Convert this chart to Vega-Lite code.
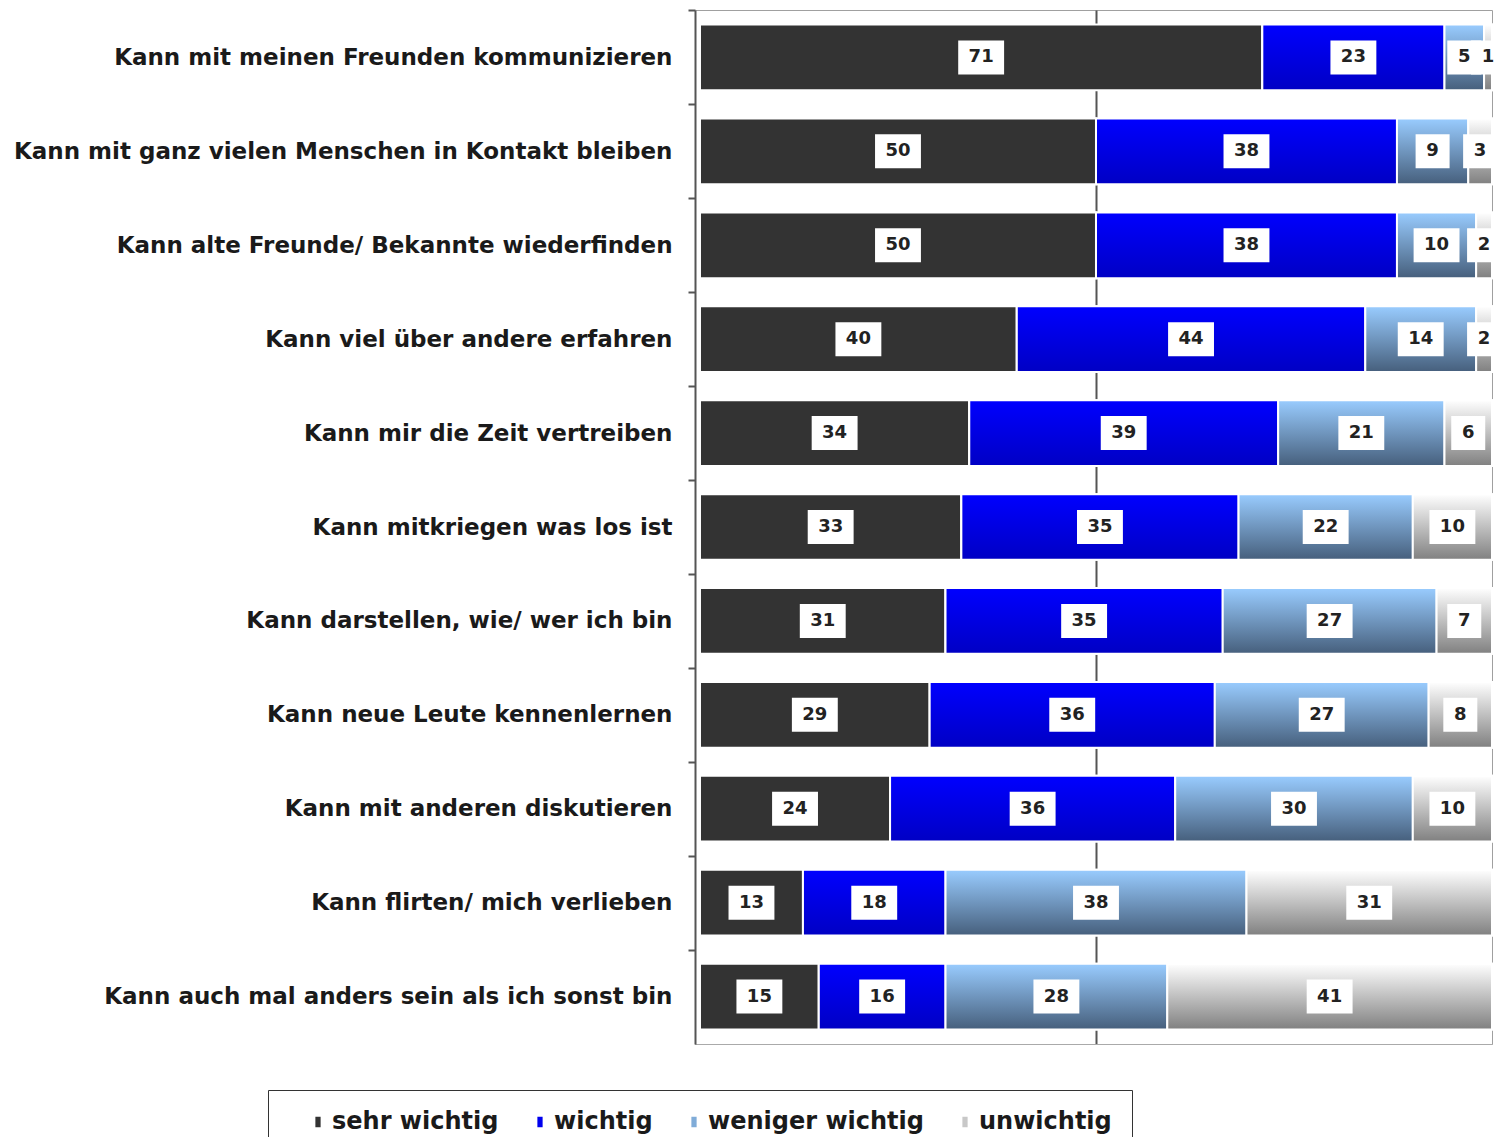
{
  "$schema": "https://vega.github.io/schema/vega-lite/v6.json",
  "width": 797,
  "height": 1034,
  "autosize": {"type": "none"},
  "padding": {"left": 695, "top": 10, "right": 3, "bottom": 93},
  "config": {"view": {"stroke": "#a0a0a0", "strokeWidth": 1}, "font": "DejaVu Sans"},
  "data": {"values": [
    {"item": "Kann mit meinen Freunden kommunizieren", "cat": "sehr wichtig", "value": 71},
    {"item": "Kann mit meinen Freunden kommunizieren", "cat": "wichtig", "value": 23},
    {"item": "Kann mit meinen Freunden kommunizieren", "cat": "weniger wichtig", "value": 5},
    {"item": "Kann mit meinen Freunden kommunizieren", "cat": "unwichtig", "value": 1},
    {"item": "Kann mit ganz vielen Menschen in Kontakt bleiben", "cat": "sehr wichtig", "value": 50},
    {"item": "Kann mit ganz vielen Menschen in Kontakt bleiben", "cat": "wichtig", "value": 38},
    {"item": "Kann mit ganz vielen Menschen in Kontakt bleiben", "cat": "weniger wichtig", "value": 9},
    {"item": "Kann mit ganz vielen Menschen in Kontakt bleiben", "cat": "unwichtig", "value": 3},
    {"item": "Kann alte Freunde/ Bekannte wiederfinden", "cat": "sehr wichtig", "value": 50},
    {"item": "Kann alte Freunde/ Bekannte wiederfinden", "cat": "wichtig", "value": 38},
    {"item": "Kann alte Freunde/ Bekannte wiederfinden", "cat": "weniger wichtig", "value": 10},
    {"item": "Kann alte Freunde/ Bekannte wiederfinden", "cat": "unwichtig", "value": 2},
    {"item": "Kann viel über andere erfahren", "cat": "sehr wichtig", "value": 40},
    {"item": "Kann viel über andere erfahren", "cat": "wichtig", "value": 44},
    {"item": "Kann viel über andere erfahren", "cat": "weniger wichtig", "value": 14},
    {"item": "Kann viel über andere erfahren", "cat": "unwichtig", "value": 2},
    {"item": "Kann mir die Zeit vertreiben", "cat": "sehr wichtig", "value": 34},
    {"item": "Kann mir die Zeit vertreiben", "cat": "wichtig", "value": 39},
    {"item": "Kann mir die Zeit vertreiben", "cat": "weniger wichtig", "value": 21},
    {"item": "Kann mir die Zeit vertreiben", "cat": "unwichtig", "value": 6},
    {"item": "Kann mitkriegen was los ist", "cat": "sehr wichtig", "value": 33},
    {"item": "Kann mitkriegen was los ist", "cat": "wichtig", "value": 35},
    {"item": "Kann mitkriegen was los ist", "cat": "weniger wichtig", "value": 22},
    {"item": "Kann mitkriegen was los ist", "cat": "unwichtig", "value": 10},
    {"item": "Kann darstellen, wie/ wer ich bin", "cat": "sehr wichtig", "value": 31},
    {"item": "Kann darstellen, wie/ wer ich bin", "cat": "wichtig", "value": 35},
    {"item": "Kann darstellen, wie/ wer ich bin", "cat": "weniger wichtig", "value": 27},
    {"item": "Kann darstellen, wie/ wer ich bin", "cat": "unwichtig", "value": 7},
    {"item": "Kann neue Leute kennenlernen", "cat": "sehr wichtig", "value": 29},
    {"item": "Kann neue Leute kennenlernen", "cat": "wichtig", "value": 36},
    {"item": "Kann neue Leute kennenlernen", "cat": "weniger wichtig", "value": 27},
    {"item": "Kann neue Leute kennenlernen", "cat": "unwichtig", "value": 8},
    {"item": "Kann mit anderen diskutieren", "cat": "sehr wichtig", "value": 24},
    {"item": "Kann mit anderen diskutieren", "cat": "wichtig", "value": 36},
    {"item": "Kann mit anderen diskutieren", "cat": "weniger wichtig", "value": 30},
    {"item": "Kann mit anderen diskutieren", "cat": "unwichtig", "value": 10},
    {"item": "Kann flirten/ mich verlieben", "cat": "sehr wichtig", "value": 13},
    {"item": "Kann flirten/ mich verlieben", "cat": "wichtig", "value": 18},
    {"item": "Kann flirten/ mich verlieben", "cat": "weniger wichtig", "value": 38},
    {"item": "Kann flirten/ mich verlieben", "cat": "unwichtig", "value": 31},
    {"item": "Kann auch mal anders sein als ich sonst bin", "cat": "sehr wichtig", "value": 15},
    {"item": "Kann auch mal anders sein als ich sonst bin", "cat": "wichtig", "value": 16},
    {"item": "Kann auch mal anders sein als ich sonst bin", "cat": "weniger wichtig", "value": 28},
    {"item": "Kann auch mal anders sein als ich sonst bin", "cat": "unwichtig", "value": 41}
  ]},
  "transform": [{"stack": "value", "groupby": ["item"], "as": ["lo", "hi"]}],
  "encoding": {
    "y": {
      "field": "item", "type": "nominal",
      "sort": ["Kann mit meinen Freunden kommunizieren", "Kann mit ganz vielen Menschen in Kontakt bleiben", "Kann alte Freunde/ Bekannte wiederfinden", "Kann viel über andere erfahren", "Kann mir die Zeit vertreiben", "Kann mitkriegen was los ist", "Kann darstellen, wie/ wer ich bin", "Kann neue Leute kennenlernen", "Kann mit anderen diskutieren", "Kann flirten/ mich verlieben", "Kann auch mal anders sein als ich sonst bin"],
      "scale": {"paddingInner": 0.3, "paddingOuter": 0.155},
      "axis": {"title": null, "domainColor": "#555555", "domainWidth": 2, "tickColor": "#555555", "tickWidth": 2, "tickSize": 7, "tickOffset": -47, "labelOffset": 47, "labelPadding": 16, "labelFont": "DejaVu Sans", "labelFontSize": 23, "labelFontWeight": "bold", "labelColor": "#1a1a1a", "labelLimit": 0}
    }
  },
  "layer": [
    {
      "mark": {"type": "bar", "stroke": "white", "strokeWidth": 2},
      "encoding": {
        "x": {"field": "lo", "type": "quantitative", "scale": {"domain": [-0.63, 100], "nice": false, "zero": false},
          "axis": {"values": [50], "labels": false, "ticks": false, "title": null, "domainColor": "#aaaaaa", "grid": true, "gridColor": "#555555", "gridWidth": 2}},
        "x2": {"field": "hi"},
        "color": {"field": "cat", "type": "nominal",
          "scale": {"domain": ["sehr wichtig", "wichtig", "weniger wichtig", "unwichtig"], "range": ["#333333", "#0000ee", "#80acd8", "#c8c8c8"]},
          "legend": {"title": " ", "titleOrient": "left", "titleFontSize": 8, "titlePadding": 18, "orient": "none", "direction": "horizontal", "legendX": -427, "legendY": 1080, "strokeColor": "#333333", "padding": 20, "symbolType": "M-0.5,-1L0.5,-1L0.5,1L-0.5,1Z", "symbolSize": 110, "symbolStrokeWidth": 0, "labelFontSize": 24, "labelFontWeight": "bold", "labelColor": "#1a1a1a", "labelFont": "DejaVu Sans", "columnPadding": 29, "labelOffset": 2, "labelLimit": 0}}
      }
    },
    {
      "transform": [{"filter": {"field": "cat", "equal": "wichtig"}}],
      "mark": {"type": "bar", "stroke": "white", "strokeWidth": 2, "color": {"gradient": "linear", "x1": 0, "y1": 0, "x2": 0, "y2": 1, "stops": [{"offset": 0, "color": "#0000ff"}, {"offset": 1, "color": "#0000c4"}]}},
      "encoding": {"x": {"field": "lo", "type": "quantitative"}, "x2": {"field": "hi"}}
    },
    {
      "transform": [{"filter": {"field": "cat", "equal": "weniger wichtig"}}],
      "mark": {"type": "bar", "stroke": "white", "strokeWidth": 2, "color": {"gradient": "linear", "x1": 0, "y1": 0, "x2": 0, "y2": 1, "stops": [{"offset": 0, "color": "#99ccff"}, {"offset": 1, "color": "#465f7c"}]}},
      "encoding": {"x": {"field": "lo", "type": "quantitative"}, "x2": {"field": "hi"}}
    },
    {
      "transform": [{"filter": {"field": "cat", "equal": "unwichtig"}}],
      "mark": {"type": "bar", "stroke": "white", "strokeWidth": 2, "color": {"gradient": "linear", "x1": 0, "y1": 0, "x2": 0, "y2": 1, "stops": [{"offset": 0, "color": "#ffffff"}, {"offset": 1, "color": "#808080"}]}},
      "encoding": {"x": {"field": "lo", "type": "quantitative"}, "x2": {"field": "hi"}}
    },
    {
      "transform": [
        {"fold": ["lo", "hi"], "as": ["end", "pos"]},
        {"aggregate": [{"op": "mean", "field": "pos", "as": "mid"}], "groupby": ["item", "cat", "value"]}
      ],
      "layer": [
        {
          "transform": [{"filter": {"field": "value", "gte": 10}}],
          "mark": {"type": "point", "filled": true, "fill": "white", "opacity": 1, "strokeWidth": 0, "shape": "M-1.35,-1L1.35,-1L1.35,1L-1.35,1Z", "size": 1156},
          "encoding": {"x": {"field": "mid", "type": "quantitative"}}
        },
        {
          "transform": [{"filter": {"field": "value", "lt": 10}}],
          "mark": {"type": "point", "filled": true, "fill": "white", "opacity": 1, "strokeWidth": 0, "shape": "M-1,-1L1,-1L1,1L-1,1Z", "size": 1156},
          "encoding": {"x": {"field": "mid", "type": "quantitative"}}
        },
        {
          "mark": {"type": "text", "font": "DejaVu Sans", "fontSize": 18, "fontWeight": "bold", "color": "#222222", "align": "center", "baseline": "middle"},
          "encoding": {"x": {"field": "mid", "type": "quantitative"}, "text": {"field": "value", "type": "quantitative"}}
        }
      ]
    }
  ]
}
